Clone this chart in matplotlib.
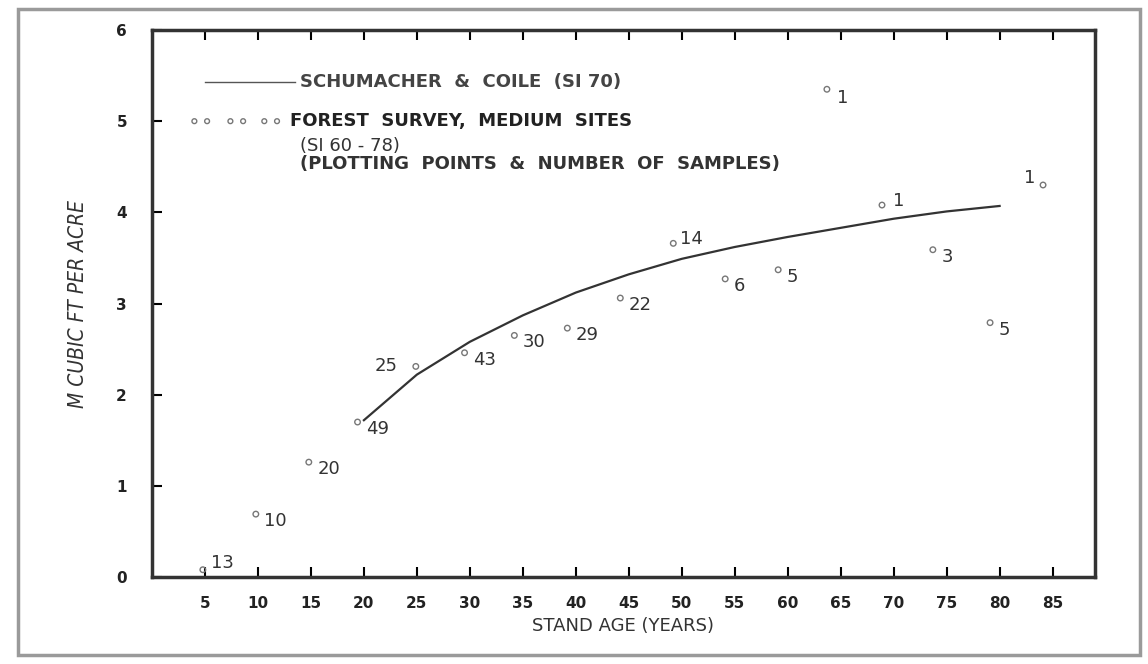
import matplotlib
matplotlib.use("Agg")
from matplotlib import pyplot as plt
from matplotlib.patches import Rectangle

# Schumacher & Coile curve (SI 70)
curve_age = [20, 25, 30, 35, 40, 45, 50, 55, 60, 65, 70, 75, 80]
curve_vol = [1.72, 2.22, 2.58, 2.87, 3.12, 3.32, 3.49, 3.62, 3.73, 3.83, 3.93, 4.01, 4.07]

# forest survey plotting points and number of samples
pt_age = [4.8, 9.8, 14.8, 19.4, 24.9, 29.5, 34.2, 39.2, 44.2, 49.2, 54.1, 59.1, 63.7, 68.9, 73.7, 79.1, 84.1]
pt_vol = [0.08, 0.69, 1.26, 1.70, 2.31, 2.46, 2.65, 2.73, 3.06, 3.66, 3.27, 3.37, 5.35, 4.08, 3.59, 2.79, 4.30]
pt_n = ["13", "10", "20", "49", "25", "43", "30", "29", "22", "14", "6", "5", "1", "1", "3", "5", "1"]

x_ticks = [5, 10, 15, 20, 25, 30, 35, 40, 45, 50, 55, 60, 65, 70, 75, 80, 85]
y_ticks = [0, 1, 2, 3, 4, 5, 6]

fig = plt.figure(figsize=(11.48, 6.64), dpi=100)
fig.patches.append(Rectangle((0.016, 0.014), 0.977, 0.972, transform=fig.transFigure,
                             fill=False, edgecolor="#9a9a9a", linewidth=2.5))
ax = fig.add_axes([0.1324, 0.131, 0.8214, 0.8238])

ax.plot(curve_age, curve_vol, color="#333333", linewidth=1.6)
ax.scatter(pt_age, pt_vol, s=16, facecolors="none", edgecolors="#777777", linewidths=1.0, zorder=3)

# label offsets (points) - most labels sit just lower right of the marker
offsets = {0: (6, 5), 4: (-30, 0), 9: (5, 3), 16: (-14, 5), 12: (7, -6), 13: (8, 3)}
for i, (a, v, n) in enumerate(zip(pt_age, pt_vol, pt_n)):
    dx, dy = offsets.get(i, (6, -5))
    ax.annotate(n, (a, v), xytext=(dx, dy), textcoords="offset points",
                fontsize=13, color="#333333", va="center", ha="left")

ax.set_xlim(0, 89)
ax.set_ylim(0, 6)
ax.set_xticks(x_ticks)
ax.set_yticks(y_ticks)
ax.tick_params(axis="both", direction="in", length=7, width=1.5, labelsize=11, top=True)
ax.tick_params(axis="x", pad=14)
ax.tick_params(axis="y", pad=18)
for lab in ax.get_xticklabels() + ax.get_yticklabels():
    lab.set_fontweight("bold")
    lab.set_color("#222222")
for sp in ax.spines.values():
    sp.set_linewidth(2.5)
    sp.set_color("#333333")

ax.set_xlabel("STAND AGE (YEARS)", fontsize=13, color="#333333", labelpad=4)
ax.set_ylabel("M CUBIC FT PER ACRE", fontsize=15, color="#333333", style="italic",
              labelpad=20, fontstretch="condensed")

# legend drawn as in the original
ax.plot([5.0, 13.5], [5.43, 5.43], color="#555555", linewidth=1.0)
ax.text(14.0, 5.43, "SCHUMACHER  &  COILE  (SI 70)", fontsize=13, fontweight="bold",
        color="#444444", va="center")
ax.scatter([4.0, 5.2, 7.4, 8.6, 10.6, 11.8], [5.0] * 6, s=12, facecolors="none",
           edgecolors="#777777", linewidths=1.0)
ax.text(13.0, 5.0, "FOREST  SURVEY,  MEDIUM  SITES", fontsize=13, fontweight="bold",
        color="#222222", va="center")
ax.text(14.0, 4.73, "(SI 60 - 78)", fontsize=13, color="#333333", va="center")
ax.text(14.0, 4.53, "(PLOTTING  POINTS  &  NUMBER  OF  SAMPLES)", fontsize=13,
        fontweight="bold", color="#333333", va="center")

fig.savefig("out.png", dpi=100)
